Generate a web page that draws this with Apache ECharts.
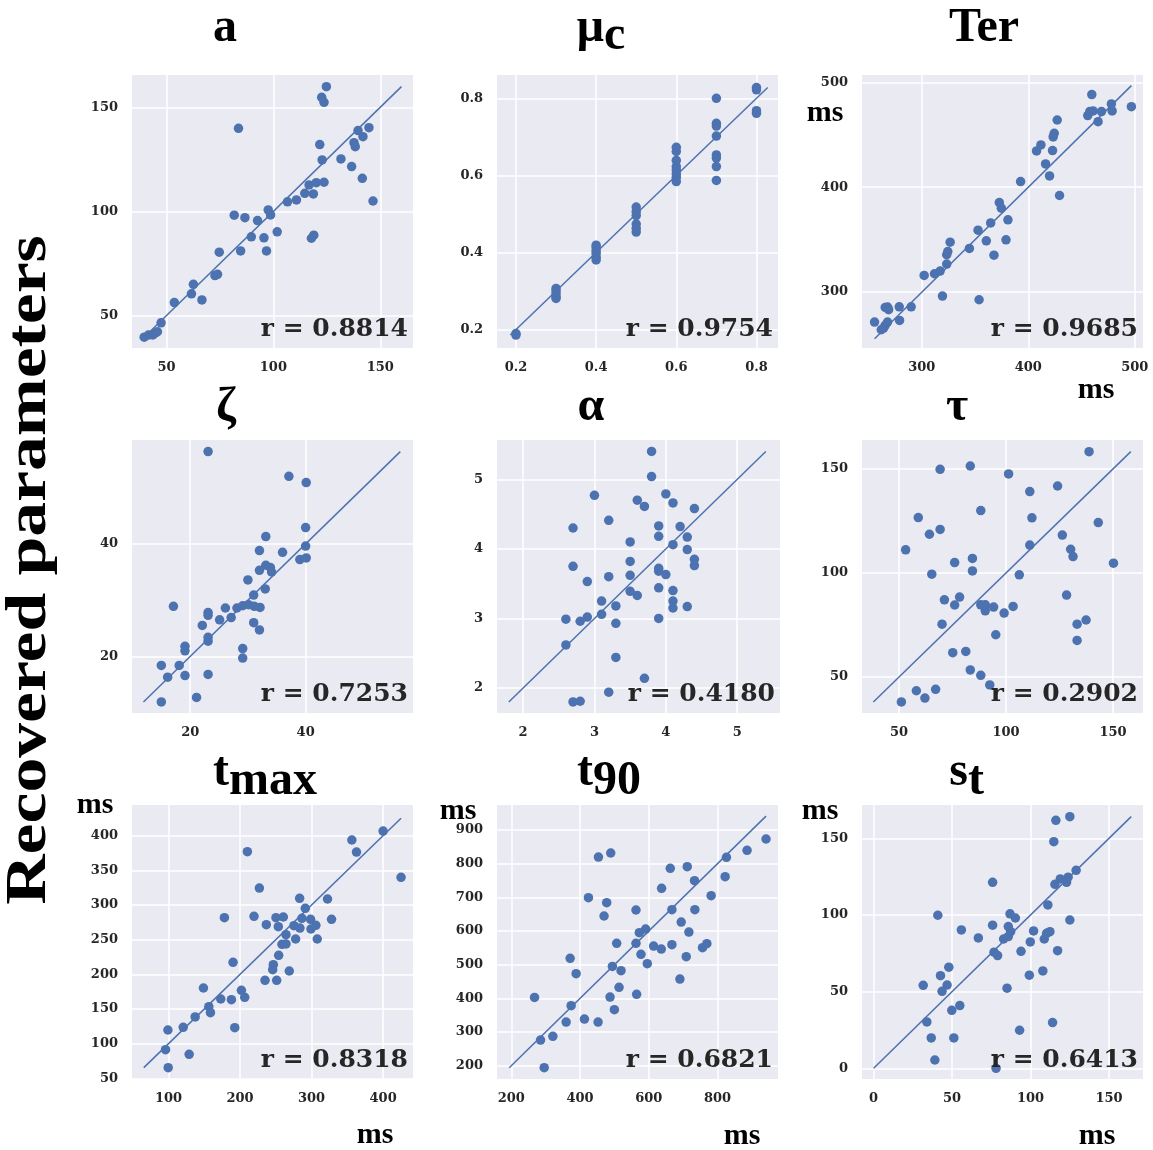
<!DOCTYPE html>
<html>
<head>
<meta charset="utf-8">
<title>Recovered parameters</title>
<script src="https://cdn.jsdelivr.net/npm/echarts@6/dist/echarts.min.js"></script>
<style>
  html, body { margin: 0; padding: 0; background: #ffffff; }
  #chart { width: 1153px; height: 1150px; }
</style>
</head>
<body>
<div id="chart"></div>
<script>
// ---- simulated (true) vs recovered parameter values, one pair of arrays per parameter ----
const aTrue = [39.6, 41.6, 43.6, 44.7, 45.8, 47.5, 53.7, 61.7, 62.6, 66.6, 72.7, 73.9, 74.7, 81.7, 83.7, 84.7, 86.7, 89.7, 92.6, 95.6, 96.8, 97.6, 98.7, 101.8, 106.6, 110.8, 114.7, 116.7, 117.8, 118.9, 118.7, 120.1, 121.7, 122.6, 123.7, 124.8, 122.8, 123.7, 131.6, 136.6, 137.7, 138.3, 139.6, 141.6, 141.9, 144.7, 146.6];
const aRecovered = [39.6, 40.6, 40.7, 41.5, 42.2, 46.5, 56.2, 60.4, 65.0, 57.5, 69.2, 69.8, 80.4, 98.2, 139.9, 81.0, 97.0, 87.8, 95.6, 87.3, 81.0, 100.7, 98.3, 90.2, 104.6, 105.5, 108.7, 112.7, 87.1, 88.6, 108.4, 113.8, 132.1, 154.8, 152.4, 159.9, 124.7, 114.0, 125.2, 121.5, 133.0, 131.1, 138.8, 115.9, 135.9, 140.2, 105.0];

const muTrue = [0.2, 0.2, 0.3, 0.3, 0.3, 0.3, 0.3, 0.4, 0.4, 0.4, 0.4, 0.4, 0.4, 0.5, 0.5, 0.5, 0.5, 0.5, 0.5, 0.6, 0.6, 0.6, 0.6, 0.6, 0.6, 0.6, 0.6, 0.7, 0.7, 0.7, 0.7, 0.7, 0.7, 0.7, 0.7, 0.8, 0.8, 0.8, 0.8];
const muRecovered = [0.186, 0.190, 0.307, 0.300, 0.293, 0.285, 0.281, 0.419, 0.413, 0.405, 0.398, 0.388, 0.381, 0.518, 0.506, 0.496, 0.474, 0.463, 0.453, 0.673, 0.662, 0.639, 0.623, 0.614, 0.604, 0.595, 0.584, 0.800, 0.735, 0.728, 0.702, 0.653, 0.645, 0.623, 0.587, 0.828, 0.822, 0.768, 0.761];

const terTrue = [255.6, 261.9, 264.1, 265.6, 267.8, 265.6, 267.8, 268.8, 278.8, 279.1, 290.0, 302.2, 311.9, 317.2, 319.4, 323.4, 323.4, 324.4, 326.6, 344.7, 352.8, 353.8, 360.6, 364.7, 367.8, 372.8, 374.7, 379.1, 380.9, 392.8, 407.8, 411.9, 416.3, 420.0, 422.8, 423.4, 424.4, 427.2, 429.4, 455.9, 457.8, 459.7, 460.9, 465.6, 468.8, 478.1, 478.8, 496.9];
const terRecovered = [271.4, 264.1, 265.7, 268.3, 271.4, 285.4, 285.7, 283.2, 286.0, 273.0, 286.0, 315.9, 317.5, 320.0, 296.2, 326.7, 335.6, 338.7, 347.6, 341.6, 359.0, 292.7, 348.9, 366.0, 335.2, 385.4, 380.0, 349.8, 368.9, 405.4, 434.6, 440.3, 422.2, 410.8, 434.9, 447.9, 451.4, 464.1, 392.1, 468.3, 472.1, 488.3, 472.7, 462.5, 472.1, 479.4, 472.7, 476.8];

const zetaTrue = [23.1, 37.1, 40.1, 40.0, 40.0, 39.0, 40.1, 33.1, 32.0, 36.0, 33.1, 33.9, 34.1, 32.0, 30.0, 33.0, 31.0, 28.1, 29.1, 30.1, 31.1, 32.1, 26.1, 27.1, 25.1, 23.1, 23.1, 22.1, 31.0, 32.0, 23.1, 23.1, 19.1, 19.1, 17.1, 29.1, 29.1, 15.0, 18.1, 16.1, 19.1, 23.1, 15.0, 21.1];
const zetaRecovered = [56.4, 52.0, 50.9, 42.9, 39.6, 37.2, 37.5, 41.3, 38.8, 38.5, 36.2, 35.8, 35.0, 35.3, 33.6, 32.0, 30.9, 28.6, 29.0, 29.2, 28.9, 28.7, 28.6, 26.9, 26.5, 27.8, 27.3, 25.5, 26.0, 24.7, 23.4, 22.7, 21.8, 21.0, 28.9, 21.4, 19.7, 18.4, 18.4, 16.3, 16.6, 16.8, 11.9, 12.7];

const alphaTrue = [3.8, 3.8, 3.0, 4.0, 3.6, 3.7, 4.1, 4.4, 3.2, 2.7, 3.9, 4.2, 3.9, 4.3, 3.5, 4.1, 4.3, 3.5, 4.4, 4.4, 2.7, 3.9, 3.9, 4.0, 3.5, 3.2, 2.9, 3.9, 4.1, 3.5, 3.6, 3.1, 4.1, 3.3, 4.1, 4.3, 3.1, 2.9, 2.6, 2.8, 3.9, 3.3, 2.6, 3.3, 3.7, 3.2, 2.7, 2.8];
const alphaRecovered = [5.40, 5.04, 4.77, 4.79, 4.70, 4.61, 4.66, 4.58, 4.41, 4.30, 4.33, 4.32, 4.18, 4.17, 4.10, 4.06, 3.99, 3.82, 3.85, 3.76, 3.75, 3.72, 3.68, 3.63, 3.62, 3.60, 3.53, 3.44, 3.40, 3.39, 3.33, 3.25, 3.25, 3.18, 3.15, 3.17, 3.06, 3.02, 2.99, 2.96, 3.00, 2.93, 2.62, 2.44, 2.14, 1.94, 1.80, 1.81];

const tauTrue = [138.8, 69.2, 83.3, 101.2, 111.1, 124.1, 88.2, 59.0, 112.1, 143.1, 69.2, 64.2, 126.3, 111.1, 53.1, 130.2, 131.3, 84.3, 76.0, 150.2, 84.3, 65.3, 106.2, 128.3, 71.2, 78.3, 76.0, 88.2, 90.3, 94.2, 103.3, 90.3, 99.1, 70.1, 133.2, 137.4, 95.2, 133.2, 75.1, 81.2, 83.3, 88.2, 92.4, 58.1, 67.1, 62.1, 51.1];
const tauRecovered = [158.3, 149.8, 151.4, 147.6, 139.1, 141.8, 130.0, 126.6, 126.5, 124.2, 120.9, 118.6, 118.2, 113.4, 111.1, 111.4, 107.9, 107.0, 105.0, 104.7, 101.0, 99.4, 99.1, 89.4, 87.1, 88.4, 84.6, 84.7, 84.7, 83.6, 83.9, 81.8, 80.7, 75.4, 75.4, 77.4, 70.3, 67.6, 61.7, 62.3, 53.4, 50.8, 46.2, 43.4, 44.1, 39.9, 38.0];

const tmaxTrue = [400.0, 356.3, 362.8, 425.1, 210.2, 227.0, 283.3, 322.3, 291.2, 178.1, 219.5, 250.2, 260.5, 286.5, 298.6, 327.9, 236.7, 253.5, 275.3, 283.7, 306.0, 299.1, 264.2, 277.7, 307.9, 258.6, 264.2, 254.0, 190.2, 246.5, 245.6, 268.8, 234.9, 251.2, 148.8, 201.9, 206.5, 173.0, 187.9, 156.3, 158.6, 137.2, 120.5, 99.1, 192.6, 95.8, 128.8, 99.5];
const tmaxRecovered = [406.7, 393.8, 376.4, 339.9, 376.9, 324.5, 309.6, 308.7, 295.2, 281.7, 283.7, 281.7, 282.7, 280.8, 279.3, 279.3, 271.6, 268.8, 270.2, 266.8, 270.7, 265.4, 257.2, 251.0, 251.0, 243.3, 243.8, 227.4, 217.3, 213.9, 206.7, 204.8, 191.3, 191.3, 180.3, 176.9, 166.8, 164.4, 163.5, 153.4, 144.7, 138.5, 123.6, 119.7, 123.1, 91.3, 84.6, 65.4];

const t90True = [941.3, 886.1, 826.1, 822.3, 781.6, 712.0, 662.6, 733.2, 637.4, 667.4, 734.2, 562.9, 453.6, 489.4, 424.5, 477.7, 470.0, 694.5, 591.0, 572.6, 716.8, 506.8, 562.9, 614.2, 636.5, 667.4, 756.5, 769.1, 577.4, 709.1, 371.3, 388.7, 494.2, 595.8, 519.4, 690.7, 513.6, 267.7, 487.4, 564.8, 374.2, 500.0, 412.9, 359.7, 452.6, 321.0, 285.2, 295.8];
const t90Recovered = [873.3, 839.6, 818.8, 761.4, 705.0, 791.1, 786.1, 749.5, 726.7, 663.4, 663.4, 662.4, 819.8, 831.7, 699.0, 684.2, 644.6, 626.7, 605.9, 595.0, 597.0, 563.4, 563.4, 555.4, 546.5, 559.4, 550.5, 562.4, 530.7, 523.8, 518.8, 473.3, 495.0, 502.9, 482.2, 457.4, 432.7, 402.9, 403.9, 411.9, 378.2, 366.3, 338.6, 329.7, 329.7, 287.1, 276.2, 194.1];

const stTrue = [125.0, 116.1, 114.8, 129.0, 118.9, 123.9, 122.9, 115.5, 75.8, 111.0, 86.9, 90.3, 40.9, 125.0, 75.8, 85.8, 87.3, 55.9, 101.9, 112.3, 110.2, 66.7, 82.8, 85.8, 108.7, 99.8, 93.9, 117.2, 76.7, 79.0, 47.9, 107.8, 99.2, 42.6, 46.8, 31.6, 43.6, 85.0, 54.9, 49.8, 33.9, 114.0, 93.0, 36.7, 51.1, 39.0, 78.0];
const stRecovered = [164.1, 161.7, 147.8, 129.1, 123.5, 124.6, 121.3, 120.0, 121.3, 106.5, 100.7, 98.0, 99.8, 96.7, 93.3, 92.4, 89.1, 90.2, 89.6, 89.1, 88.0, 85.0, 84.3, 85.9, 84.3, 82.4, 76.3, 76.7, 75.7, 73.5, 65.9, 63.5, 60.7, 60.4, 54.3, 54.1, 50.2, 52.2, 40.9, 37.8, 30.2, 29.8, 24.8, 19.8, 19.8, 5.4, 0.0];

// ---- tick values shown on each panel (x ticks, y ticks) ----
const aTicks = [50, 100, 150];
const muTicks = [0.2, 0.4, 0.6, 0.8];
const terTicks = [300, 400, 500];
const zetaTicks = [20, 40];
const alphaTicks = [2, 3, 4, 5];
const tauTicks = [50, 100, 150];
const tmaxXTicks = [100, 200, 300, 400];
const tmaxYTicks = [50, 100, 150, 200, 250, 300, 350, 400];
const t90XTicks = [200, 400, 600, 800];
const t90YTicks = [200, 300, 400, 500, 600, 700, 800, 900];
const stTicks = [0, 50, 100, 150];

// ---- correlation labels ----
const rLabels = ['0.8814', '0.9754', '0.9685', '0.7253', '0.4180', '0.2902', '0.8318', '0.6821', '0.6413'];

// ---- panel wiring ----
const panels = [
  { xs: aTrue, ys: aRecovered, xTicks: aTicks, yTicks: aTicks },
  { xs: muTrue, ys: muRecovered, xTicks: muTicks, yTicks: muTicks },
  { xs: terTrue, ys: terRecovered, xTicks: terTicks, yTicks: terTicks },
  { xs: zetaTrue, ys: zetaRecovered, xTicks: zetaTicks, yTicks: zetaTicks },
  { xs: alphaTrue, ys: alphaRecovered, xTicks: alphaTicks, yTicks: alphaTicks },
  { xs: tauTrue, ys: tauRecovered, xTicks: tauTicks, yTicks: tauTicks },
  { xs: tmaxTrue, ys: tmaxRecovered, xTicks: tmaxXTicks, yTicks: tmaxYTicks },
  { xs: t90True, ys: t90Recovered, xTicks: t90XTicks, yTicks: t90YTicks },
  { xs: stTrue, ys: stRecovered, xTicks: stTicks, yTicks: stTicks }
];

// plot rectangles and axis limits
const frames = [
  { left: 132, top: 75,  width: 281, height: 273, x: [33.9, 165.3],   y: [34.4, 165.5] },
  { left: 497, top: 75,  width: 281, height: 273, x: [0.1527, 0.8537], y: [0.1525, 0.8604] },
  { left: 862, top: 75,  width: 281, height: 273, x: [243.8, 507.8],  y: [246.7, 507.0] },
  { left: 132, top: 440, width: 281, height: 273, x: [9.92, 58.6],    y: [9.94, 58.46] },
  { left: 497, top: 440, width: 283, height: 273, x: [1.635, 5.599],  y: [1.641, 5.565] },
  { left: 862, top: 440, width: 281, height: 273, x: [32.7, 164.0],   y: [32.7, 163.9] },
  { left: 132, top: 805, width: 281, height: 274, x: [48.9, 441.8],   y: [49.0, 444.3] },
  { left: 497, top: 805, width: 281, height: 274, x: [158.5, 976.1],  y: [160.5, 974.3] },
  { left: 862, top: 805, width: 281, height: 274, x: [-7.4, 171.6],   y: [-7.0, 171.7] }
];

const BLUE = '#4c72b0';
const TICK_FONT = { color: '#262626', fontFamily: 'DejaVu Serif', fontWeight: 'bold', fontSize: 13 };

const grids = [], xAxes = [], yAxes = [], series = [], graphics = [];

panels.forEach((p, i) => {
  const f = frames[i];
  grids.push({
    left: f.left, top: f.top, width: f.width, height: f.height,
    show: true, backgroundColor: '#eaeaf2', borderWidth: 0,
    containLabel: false, outerBoundsMode: 'none'
  });
  const axisBase = (ticks, lim, margin) => ({
    type: 'value', gridIndex: i, min: lim[0], max: lim[1],
    axisLine: { show: false },
    axisTick: { show: false, customValues: ticks },
    axisLabel: Object.assign({ customValues: ticks, margin: margin }, TICK_FONT),
    splitLine: { show: true, lineStyle: { color: '#ffffff', width: 1.5 } },
    minorSplitLine: { show: false }
  });
  xAxes.push(axisBase(p.xTicks, f.x, 13));
  yAxes.push(axisBase(p.yTicks, f.y, 14));

  series.push({
    type: 'scatter', xAxisIndex: i, yAxisIndex: i,
    data: p.xs.map((v, k) => [v, p.ys[k]]),
    symbol: 'circle', symbolSize: 9.5,
    itemStyle: { color: BLUE, opacity: 1 },
    silent: true, z: 2
  });

  // identity line spanning the joint range of true and recovered values
  const all = p.xs.concat(p.ys);
  const lo = Math.min.apply(null, all);
  const hi = Math.max.apply(null, all);
  series.push({
    type: 'line', xAxisIndex: i, yAxisIndex: i,
    data: [[lo, lo], [hi, hi]],
    symbol: 'none', showSymbol: false,
    lineStyle: { color: BLUE, width: 1.5 },
    silent: true, z: 3
  });

  // r = ... in the lower right corner of the panel
  graphics.push(label('r = ' + rLabels[i], f.left + f.width - 5, f.top + f.height - 19,
    'bold 25px "DejaVu Serif"', 'right', '#262626'));
});

function label(text, x, y, font, align, fill, extra) {
  return Object.assign({
    type: 'text', x: x, y: y, silent: true, z: 10,
    style: {
      text: text, font: font, fill: fill || '#000000',
      align: align || 'center', verticalAlign: 'middle',
      textAlign: align || 'center', textVerticalAlign: 'middle'
    }
  }, extra || {});
}

const TITLE = 'bold 48px "Liberation Serif"';
const MS = 'bold 30px "Liberation Serif"';

// panel titles
graphics.push(label('a', 225, 29, TITLE));
graphics.push(label('μ', 604, 29, TITLE, 'right'));
graphics.push(label('c', 604, 37, TITLE, 'left'));
graphics.push(label('Ter', 984, 29, TITLE));
graphics.push(label('ζ', 226, 408, TITLE));
graphics.push(label('α', 591, 408, TITLE));
graphics.push(label('τ', 957, 408, TITLE));
graphics.push(label('t', 229, 773, TITLE, 'right'));
graphics.push(label('max', 229, 782, TITLE, 'left'));
graphics.push(label('t', 593, 773, TITLE, 'right'));
graphics.push(label('90', 593, 782, TITLE, 'left'));
graphics.push(label('s', 968, 773, TITLE, 'right'));
graphics.push(label('t', 968, 782, TITLE, 'left'));

// unit labels
graphics.push(label('ms', 825, 113, MS));
graphics.push(label('ms', 1096, 390, MS));
graphics.push(label('ms', 95, 805, MS));
graphics.push(label('ms', 375, 1135, MS));
graphics.push(label('ms', 458, 811, MS));
graphics.push(label('ms', 742, 1136, MS));
graphics.push(label('ms', 820, 811, MS));
graphics.push(label('ms', 1097, 1136, MS));

// shared vertical label
graphics.push(label('Recovered parameters', 30, 570, 'bold 58px "Liberation Serif"', 'center', '#000000',
  { rotation: Math.PI / 2, scaleX: 1.2, scaleY: 1 }));

const chart = echarts.init(document.getElementById('chart'), null, { renderer: 'canvas', width: 1153, height: 1150 });
chart.setOption({
  animation: false,
  backgroundColor: '#ffffff',
  grid: grids,
  xAxis: xAxes,
  yAxis: yAxes,
  series: series,
  graphic: { elements: graphics }
});
</script>
</body>
</html>
